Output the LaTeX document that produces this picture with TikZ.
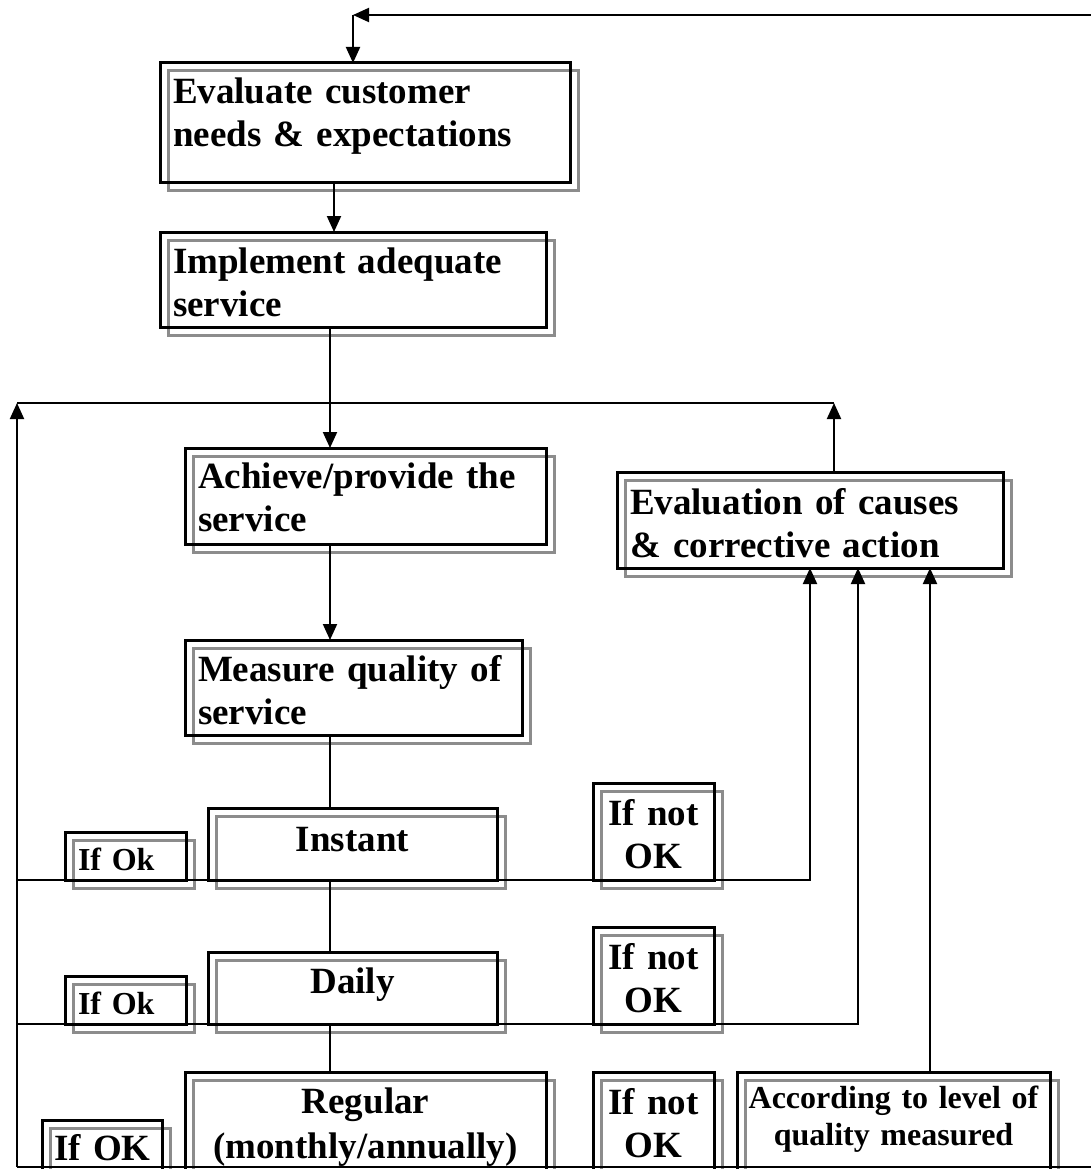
\documentclass[tikz,border=0pt]{standalone}
\usepackage{fontspec}
\setmainfont{Liberation Serif}
\usetikzlibrary{arrows.meta,backgrounds}
\newcommand\bigtext{\fontsize{37pt}{43pt}\selectfont\bfseries}
\newcommand\smalltext{\fontsize{32pt}{37pt}\selectfont\bfseries}
\begin{document}
\begin{tikzpicture}[x=1pt,y=-1pt,
  box/.style={draw, line width=3pt, anchor=north west, inner xsep=13pt,
    inner ysep=0pt, outer sep=0pt, font=\bigtext, align=left},
  small/.style={font=\smalltext},
  shadowline/.style={draw=black!45, line width=3pt},
  link/.style={line width=2pt},
  arrow/.style={link, -{Triangle[length=16pt,width=14pt]}},
]
\path[use as bounding box] (0,0) rectangle (1091,1169);
\clip (0,0) rectangle (1091,1169);

% main process boxes
\node[box, text width=384pt, text height=41pt, text depth=79pt] (needs) at (160,63)
  {Evaluate customer\\needs \& expectations};
\node[box, text width=360pt, text height=41pt, text depth=54pt] (impl) at (160,232)
  {Implement adequate\\service};
\node[box, text width=335pt, text height=40pt, text depth=56pt] (provide) at (185,448)
  {Achieve/provide the\\service};
\node[box, text width=311pt, text height=41pt, text depth=54pt] (measure) at (185,640)
  {Measure quality of\\service};
\node[box, text width=360pt, text height=42pt, text depth=54pt] (causes) at (617,472)
  {Evaluation of causes\\\& corrective action};

% measurement frequencies
\node[box, align=center, text width=263pt, text height=43pt, text depth=29pt] (instant) at (208,808) {Instant};
\node[box, align=center, text width=263pt, text height=41pt, text depth=31pt] (daily) at (208,952) {Daily};
\node[box, align=center, inner xsep=5pt, text width=351pt, text height=41pt, text depth=100pt] (regular) at (185,1072)
  {Regular\\[2pt](monthly/annually)};

% outcome labels
\node[box, small, text width=95pt, text height=38pt, text depth=10pt] (okA) at (65,832) {\mbox{If Ok}};
\node[box, small, text width=95pt, text height=38pt, text depth=10pt] (okB) at (65,976) {\mbox{If Ok}};
\node[box, inner xsep=12pt, text width=96pt, text height=40pt, text depth=60pt] (okC) at (42,1120) {\mbox{If OK}};
\node[box, align=center, inner xsep=5pt, text width=111pt, text height=42pt, text depth=55pt] (nokA) at (593,783) {If not\\OK};
\node[box, align=center, inner xsep=5pt, text width=111pt, text height=42pt, text depth=55pt] (nokB) at (593,927) {If not\\OK};
\node[box, align=center, inner xsep=5pt, text width=111pt, text height=42pt, text depth=100pt] (nokC) at (593,1072) {If not\\OK};
\node[box, small, align=center, inner xsep=3pt, text width=307pt, text height=36pt, text depth=100pt] (level) at (737,1072)
  {According to level of\\quality measured};

% offset grey frames behind every box
\begin{scope}[on background layer]
  \foreach \n in {needs,impl,provide,measure,causes,instant,daily,regular,okA,okB,okC,nokA,nokB,nokC,level}
    \draw[shadowline] ([shift={(8pt,-8pt)}]\n.north west) rectangle ([shift={(8pt,-8pt)}]\n.south east);
\end{scope}

% reference positions for the connectors
\coordinate (spineA) at (334,0);
\coordinate (spine) at (330,0);
\coordinate (left) at (17,0);
\coordinate (ret) at (834,0);
\coordinate (inA) at (810,0);
\coordinate (inB) at (858,0);
\coordinate (inC) at (930,0);
\coordinate (loop) at (0,403);
\coordinate (base) at (0,1167);
\coordinate (rim) at (1091,0);
\coordinate (feedR) at (1091,15);
\coordinate (feedL) at (353,15);

% feedback into the first step
\draw[arrow] (feedR) -- (feedL);
\draw[arrow] (feedL) -- (feedL |- needs.north);

% main flow
\draw[arrow] (needs.south -| spineA) -- (impl.north -| spineA);
\draw[arrow] (impl.south -| spine) -- (provide.north -| spine);
\draw[arrow] (provide.south -| spine) -- (measure.north -| spine);
\draw[link] (measure.south -| spine) -- (instant.north -| spine);
\draw[link] (instant.south -| spine) -- (daily.north -| spine);
\draw[link] (daily.south -| spine) -- (regular.north -| spine);

% return loop
\draw[link] (left |- loop) -- (ret |- loop);
\draw[arrow] (left |- base) -- (left |- loop);
\draw[arrow] (causes.north -| ret) -- (ret |- loop);
\draw[link] (left |- base) -- (rim |- base);

% not-OK paths into the corrective action
\draw[arrow] (left |- instant.south) -| (causes.south -| inA);
\draw[arrow] (left |- daily.south) -| (causes.south -| inB);
\draw[arrow] (level.north -| inC) -- (causes.south -| inC);
\end{tikzpicture}
\end{document}
